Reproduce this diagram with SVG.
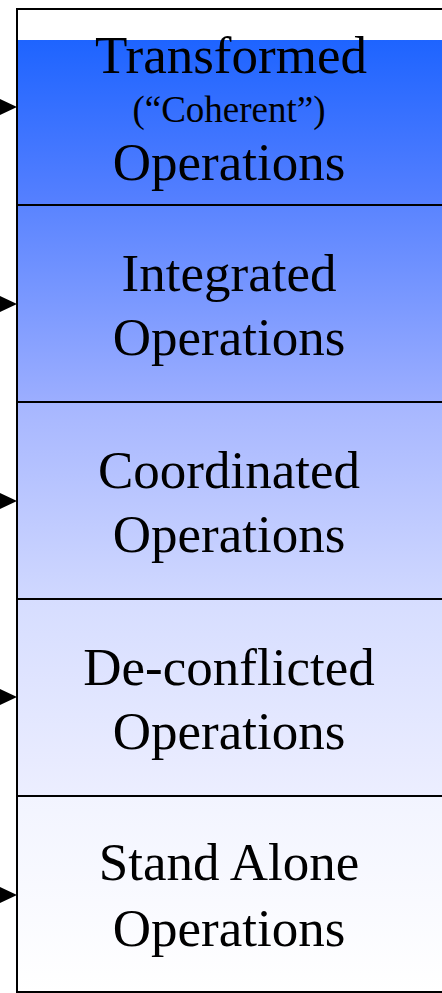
<svg xmlns="http://www.w3.org/2000/svg" width="442" height="993" viewBox="0 0 442 993">
<style>
.t{font-family:"Liberation Serif","Times New Roman",serif;font-size:53px;fill:#000;text-anchor:middle}
.s{font-size:37px}
.box{stroke:#000;stroke-width:2}
.arr{fill:#000}
</style>
<defs>
<linearGradient id="g1" x1="0" y1="0" x2="0" y2="1"><stop offset="0" stop-color="#1e64ff"/><stop offset="1" stop-color="#5680ff"/></linearGradient>
<linearGradient id="g2" x1="0" y1="0" x2="0" y2="1"><stop offset="0" stop-color="#5a84ff"/><stop offset="1" stop-color="#9caeff"/></linearGradient>
<linearGradient id="g3" x1="0" y1="0" x2="0" y2="1"><stop offset="0" stop-color="#a6b6ff"/><stop offset="1" stop-color="#d0d8ff"/></linearGradient>
<linearGradient id="g4" x1="0" y1="0" x2="0" y2="1"><stop offset="0" stop-color="#d6ddff"/><stop offset="1" stop-color="#eceeff"/></linearGradient>
<linearGradient id="g5" x1="0" y1="0" x2="0" y2="1"><stop offset="0" stop-color="#f2f4ff"/><stop offset="1" stop-color="#ffffff"/></linearGradient>
</defs>
<rect x="0" y="0" width="442" height="993" fill="#fff"/>
<g id="n1">
<rect x="17" y="9" width="426" height="196" fill="#fff" class="box"/>
<rect x="18" y="40" width="424" height="164" fill="url(#g1)"/>
<text class="t" x="231" y="73">Transformed</text>
<text class="t s" x="229" y="122">(“Coherent”)</text>
<text class="t" x="229" y="180">Operations</text>
</g>
<g id="n2">
<rect x="17" y="205" width="426" height="197" fill="url(#g2)" class="box"/>
<text class="t" x="229" y="291">Integrated</text>
<text class="t" x="229" y="355">Operations</text>
</g>
<g id="n3">
<rect x="17" y="402" width="426" height="197" fill="url(#g3)" class="box"/>
<text class="t" x="229" y="488">Coordinated</text>
<text class="t" x="229" y="552">Operations</text>
</g>
<g id="n4">
<rect x="17" y="599" width="426" height="197" fill="url(#g4)" class="box"/>
<text class="t" x="229" y="685">De-conflicted</text>
<text class="t" x="229" y="749">Operations</text>
</g>
<g id="n5">
<rect x="17" y="796" width="426" height="196" fill="url(#g5)" class="box"/>
<text class="t" x="229" y="880">Stand Alone</text>
<text class="t" x="229" y="946">Operations</text>
</g>
<g id="connectors">
<polygon class="arr" points="0,99 17,107 0,115"/>
<polygon class="arr" points="0,296 17,304 0,312"/>
<polygon class="arr" points="0,493 17,501 0,509"/>
<polygon class="arr" points="0,689 17,697 0,705"/>
<polygon class="arr" points="0,887 17,895 0,903"/>
</g>
</svg>
